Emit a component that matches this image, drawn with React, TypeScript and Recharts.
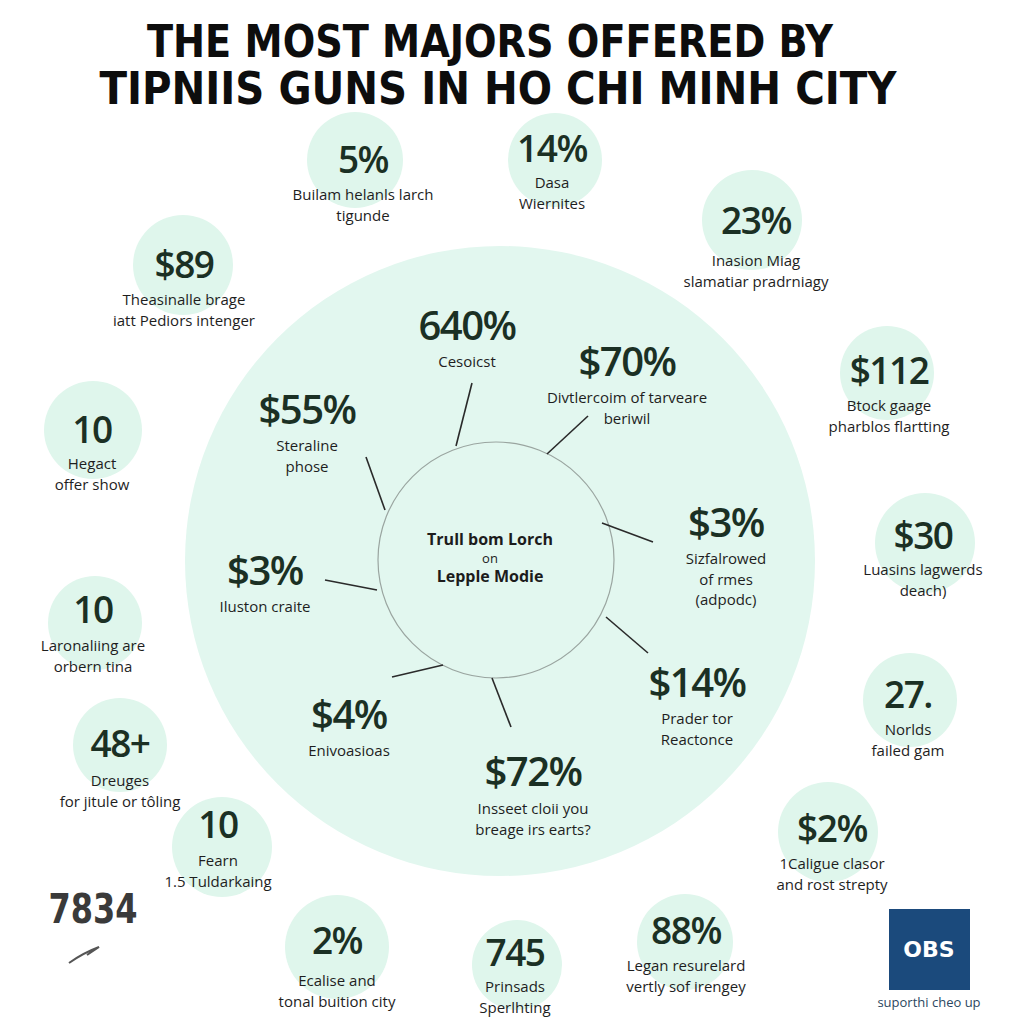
import { ScatterChart, Scatter, XAxis, YAxis } from 'recharts';

const titleLines = ['THE MOST MAJORS OFFERED BY', 'TIPNIIS GUNS IN HO CHI MINH CITY'];

// outer bubbles
const bubbleValues = ['5%', '14%', '23%', '$89', '$112', '10', '$30', '10', '27.', '48+', '10', '$2%', '2%', '745', '88%'];
const bubbleLabels = [
  ['Builam helanls larch', 'tigunde'],
  ['Dasa', 'Wiernites'],
  ['Inasion Miag', 'slamatiar pradrniagy'],
  ['Theasinalle brage', 'iatt Pediors intenger'],
  ['Btock gaage', 'pharblos flartting'],
  ['Hegact', 'offer show'],
  ['Luasins lagwerds', 'deach)'],
  ['Laronaliing are', 'orbern tina'],
  ['Norlds', 'failed gam'],
  ['Dreuges', 'for jitule or tôling'],
  ['Fearn', '1.5 Tuldarkaing'],
  ['1Caligue clasor', 'and rost strepty'],
  ['Ecalise and', 'tonal buition city'],
  ['Prinsads', 'Sperlhting'],
  ['Legan resurelard', 'vertly sof irengey'],
];
const bubbleX = [355, 555, 752, 183, 887, 93, 925, 95, 910, 120, 222, 828, 337, 517, 685];
const bubbleY = [160, 160, 220, 265, 373, 430, 543, 623, 700, 745, 847, 832, 947, 965, 942];
const bubbleR = [48, 47, 50, 50, 47, 49, 50, 47, 47, 47, 50, 50, 52, 45, 48];
const bubbleTextX = [363, 552, 756, 184, 889, 92, 923, 93, 908, 120, 218, 832, 337, 515, 686];
const bubbleValueY = [173, 162, 234, 278, 384, 443, 549, 623, 708, 757, 838, 842, 954, 966, 944];
const bubbleLabelY = [200, 188, 266, 305, 411, 469, 575, 651, 735, 786, 866, 869, 986, 992, 971];

// items inside the big circle
const innerValues = ['640%', '$70%', '$55%', '$3%', '$3%', '$14%', '$4%', '$72%'];
const innerLabels = [
  ['Cesoicst'],
  ['Divtlercoim of tarveare', 'beriwil'],
  ['Steraline', 'phose'],
  ['Iluston craite'],
  ['Sizfalrowed', 'of rmes', '(adpodc)'],
  ['Prader tor', 'Reactonce'],
  ['Enivoasioas'],
  ['Insseet cloii you', 'breage irs earts?'],
];
const innerX = [467, 627, 307, 265, 726, 697, 349, 533];
const innerValueY = [340, 376, 424, 585, 537, 697, 729, 786];
const innerLabelY = [367, 403, 451, 612, 564, 724, 756, 814];

// leader lines from the hub
const leaderFrom = [[472, 383], [588, 416], [366, 457], [325, 580], [602, 523], [606, 617], [392, 677], [492, 678]];
const leaderTo = [[456, 446], [547, 454], [385, 510], [377, 590], [653, 542], [648, 653], [443, 665], [511, 727]];

const hubText = ['Trull bom Lorch', 'on', 'Lepple Modie'];

const MINT = '#dff6ec';
const VALUE_COLOR = '#1b3024';
const FONT = '"Open Sans", "Noto Sans", sans-serif';

const bubbles = bubbleValues.map((v, i) => ({
  x: bubbleX[i], y: bubbleY[i], r: bubbleR[i], value: v, labels: bubbleLabels[i],
  tx: bubbleTextX[i], vy: bubbleValueY[i], ly: bubbleLabelY[i],
}));
const inner = innerValues.map((v, i) => ({
  x: innerX[i], y: innerValueY[i], value: v, labels: innerLabels[i], ly: innerLabelY[i],
}));

const BubbleShape = (props: any) => {
  const { cx, cy, payload } = props;
  const ox = cx - payload.x;
  const oy = cy - payload.y;
  return (
    <g>
      <circle cx={cx} cy={cy} r={payload.r} fill={MINT} />
      <text x={payload.tx + ox} y={payload.vy + oy} textAnchor="middle" fontFamily={FONT} fontWeight={600}
        fontSize={37} fill={VALUE_COLOR} letterSpacing={-1.5}>{payload.value}</text>
      {payload.labels.map((l: string, k: number) => (
        <text key={k} x={payload.tx + ox} y={payload.ly + oy + k * 21} textAnchor="middle" fontFamily={FONT}
          fontSize={15} fill="#1e1e1e">{l}</text>
      ))}
    </g>
  );
};

const InnerShape = (props: any) => {
  const { cx, cy, payload } = props;
  const oy = cy - payload.y;
  return (
    <g>
      <text x={cx} y={cy} textAnchor="middle" fontFamily={FONT} fontWeight={600} fontSize={40}
        fill={VALUE_COLOR} letterSpacing={-1.5}>{payload.value}</text>
      {payload.labels.map((l: string, k: number) => (
        <text key={k} x={cx} y={payload.ly + oy + k * 20.5} textAnchor="middle" fontFamily={FONT}
          fontSize={15} fill="#1e1e1e">{l}</text>
      ))}
    </g>
  );
};

const BigCircle = (props: any) => (
  <circle cx={props.cx} cy={props.cy} r={props.payload.r} fill="#e2f7ef" />
);

const HubShape = (props: any) => {
  const { cx, cy, payload } = props;
  return (
    <g>
      <circle cx={cx} cy={cy} r={payload.r} fill="none" stroke="#9aa5a0" strokeWidth={1.2} />
      <text x={cx - 6} y={cy - 15} textAnchor="middle" fontFamily={FONT} fontWeight={700} fontSize={16} fill="#1c1c1c">{hubText[0]}</text>
      <text x={cx - 6} y={cy + 3} textAnchor="middle" fontFamily={FONT} fontSize={13} fill="#1c1c1c">{hubText[1]}</text>
      <text x={cx - 6} y={cy + 22} textAnchor="middle" fontFamily={FONT} fontWeight={700} fontSize={16} fill="#1c1c1c">{hubText[2]}</text>
    </g>
  );
};

const TitleShape = (props: any) => {
  const { cx, cy, payload } = props;
  return (
    <text x={cx} y={cy} textAnchor="middle" fontFamily='"DejaVu Sans Condensed", "DejaVu Sans", sans-serif'
      fontWeight={700} fontSize={44} fill="#0d0d0d" textLength={payload.w} lengthAdjust="spacingAndGlyphs">
      {payload.text}
    </text>
  );
};

const BadgeShape = (props: any) => {
  const { cx, cy } = props;
  return (
    <g>
      <rect x={cx - 40} y={cy - 40} width={81} height={81} fill="#1b4a7c" />
      <text x={cx} y={cy + 8} textAnchor="middle" fontFamily='"DejaVu Sans", sans-serif' fontWeight={700}
        fontSize={22} fill="#ffffff">OBS</text>
      <text x={cx} y={cy + 58} textAnchor="middle" fontFamily={FONT} fontSize={13} fill="#2b4760">suporthi cheo up</text>
    </g>
  );
};

const StampShape = (props: any) => {
  const { cx, cy } = props;
  return (
    <g>
      <text x={cx} y={cy} textAnchor="middle" fontFamily='"DejaVu Sans Condensed", sans-serif' fontWeight={700}
        fontSize={40} fill="#3a3a3a" textLength={89} lengthAdjust="spacingAndGlyphs">7834</text>
      <path d={`M${cx - 24} ${cy + 40} Q${cx - 10} ${cy + 30} ${cx + 6} ${cy + 24} L${cx - 6} ${cy + 32}`}
        stroke="#555" strokeWidth={2} fill="none" />
    </g>
  );
};

const Empty = () => <g />;

export default function App() {
  return (
    <div style={{ position: 'absolute', left: 0, top: 0, background: '#ffffff' }}>
      <ScatterChart width={1024} height={1024} margin={{ top: 0, right: 0, bottom: 0, left: 0 }}>
        <XAxis type="number" dataKey="x" domain={[0, 1024]} hide />
        <YAxis type="number" dataKey="y" domain={[0, 1024]} reversed hide />
        <Scatter data={[{ x: 500, y: 561, r: 315 }]} shape={BigCircle} isAnimationActive={false} />
        <Scatter data={[{ x: 496, y: 560, r: 118 }]} shape={HubShape} isAnimationActive={false} />
        {leaderFrom.map((p, i) => (
          <Scatter key={i} data={[{ x: p[0], y: p[1] }, { x: leaderTo[i][0], y: leaderTo[i][1] }]}
            line={{ stroke: '#2a2a2a', strokeWidth: 1.6 }} shape={Empty} isAnimationActive={false} />
        ))}
        <Scatter data={bubbles} shape={BubbleShape} isAnimationActive={false} />
        <Scatter data={inner} shape={InnerShape} isAnimationActive={false} />
        <Scatter data={[{ x: 490, y: 57, text: titleLines[0], w: 686 }, { x: 498, y: 104, text: titleLines[1], w: 797 }]}
          shape={TitleShape} isAnimationActive={false} />
        <Scatter data={[{ x: 93, y: 923 }]} shape={StampShape} isAnimationActive={false} />
        <Scatter data={[{ x: 929, y: 949 }]} shape={BadgeShape} isAnimationActive={false} />
      </ScatterChart>
    </div>
  );
}
